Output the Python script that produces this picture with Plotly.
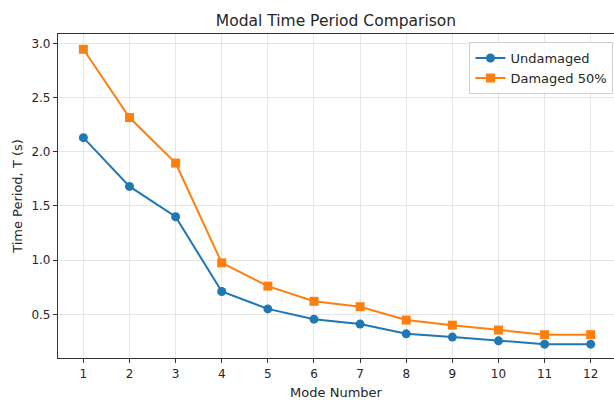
import plotly.graph_objects as go

modes = [1, 2, 3, 4, 5, 6, 7, 8, 9, 10, 11, 12]
undamaged = [2.13, 1.68, 1.40, 0.71, 0.55, 0.455, 0.41, 0.32, 0.29, 0.255, 0.225, 0.225]
damaged = [2.945, 2.315, 1.895, 0.975, 0.76, 0.62, 0.57, 0.447, 0.40, 0.355, 0.312, 0.312]
y_ticks = [0.5, 1.0, 1.5, 2.0, 2.5, 3.0]

FONT = "DejaVu Sans"
TXT = "#262626"

fig = go.Figure()
fig.add_trace(go.Scatter(
    x=modes, y=undamaged, mode="lines+markers", name="Undamaged",
    line=dict(color="#1f77b4", width=2),
    marker=dict(symbol="circle", size=9, color="#1f77b4"),
))
fig.add_trace(go.Scatter(
    x=modes, y=damaged, mode="lines+markers", name="Damaged 50%",
    line=dict(color="#ff7f0e", width=2),
    marker=dict(symbol="square", size=9, color="#ff7f0e"),
))

fig.update_layout(
    width=614, height=400,
    margin=dict(l=58, r=0, t=34, b=42),
    paper_bgcolor="white", plot_bgcolor="white",
    font=dict(family=FONT, color=TXT, size=12),
    title=dict(text="Modal Time Period Comparison", x=0.5, xanchor="center",
               xref="paper", y=1 - 20.5 / 400, yanchor="middle",
               font=dict(size=15.5, family=FONT, color=TXT)),
    legend=dict(x=0.999, xanchor="right", y=0.975, yanchor="top",
                bgcolor="rgba(255,255,255,0.8)", bordercolor="#d0d0d0",
                borderwidth=1, font=dict(size=13, family=FONT, color=TXT)),
    showlegend=True,
)
fig.update_xaxes(
    range=[0.45, 12.505], tickmode="array", tickvals=modes,
    ticktext=[str(m) for m in modes],
    showgrid=True, gridcolor="#e6e6e6", gridwidth=1,
    showline=True, linecolor="#333333", linewidth=1.2, mirror=True,
    ticks="outside", ticklen=4, tickcolor="#333333",
    zeroline=False,
    title=dict(text="Mode Number", standoff=9, font=dict(size=13, family=FONT, color=TXT)),
    tickfont=dict(size=12, family=FONT, color=TXT),
)
fig.update_yaxes(
    range=[0.097, 3.086], tickmode="array", tickvals=y_ticks,
    ticktext=[f"{v:.1f}" for v in y_ticks],
    showgrid=True, gridcolor="#e6e6e6", gridwidth=1,
    showline=True, linecolor="#333333", linewidth=1.2, mirror=False,
    ticks="outside", ticklen=4, tickcolor="#333333",
    zeroline=False,
    title=dict(text="Time Period, T (s)", standoff=5, font=dict(size=13, family=FONT, color=TXT)),
    tickfont=dict(size=12, family=FONT, color=TXT),
)

fig.write_html("out.html")
